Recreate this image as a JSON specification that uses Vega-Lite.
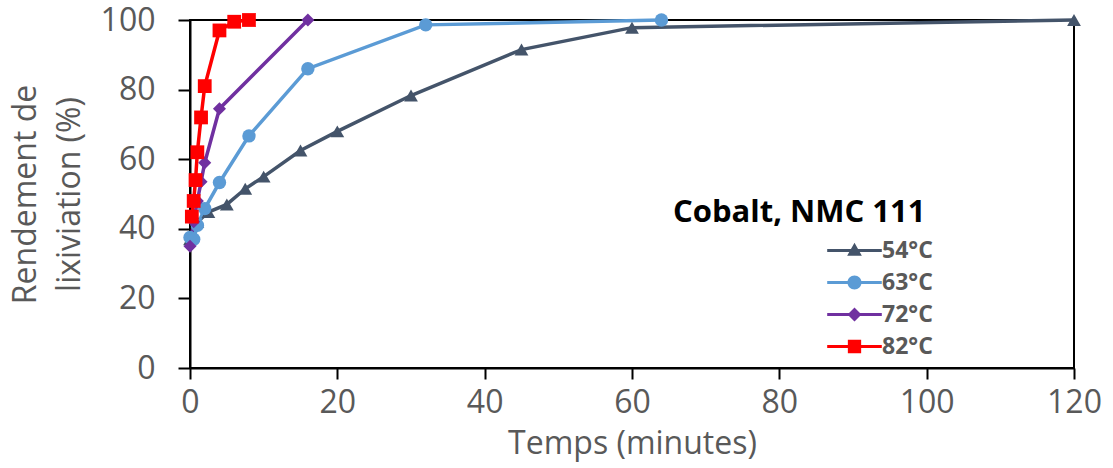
{
  "$schema": "https://vega.github.io/schema/vega-lite/v6.json",
  "width": 884,
  "height": 348,
  "autosize": "none",
  "padding": {"left": 190, "top": 20, "right": 39, "bottom": 100},
  "background": "white",
  "config": {
    "view": {"stroke": "black", "strokeWidth": 2},
    "font": "Open Sans"
  },
  "data": {
    "values": [
      {"serie": "54°C", "t": 0, "v": 37},
      {"serie": "54°C", "t": 1, "v": 42},
      {"serie": "54°C", "t": 2.5, "v": 44.8},
      {"serie": "54°C", "t": 5, "v": 47},
      {"serie": "54°C", "t": 7.5, "v": 51.5},
      {"serie": "54°C", "t": 10, "v": 55},
      {"serie": "54°C", "t": 15, "v": 62.5},
      {"serie": "54°C", "t": 20, "v": 68},
      {"serie": "54°C", "t": 30, "v": 78.3},
      {"serie": "54°C", "t": 45, "v": 91.5},
      {"serie": "54°C", "t": 60, "v": 97.8},
      {"serie": "54°C", "t": 120, "v": 100},
      {"serie": "63°C", "t": 0, "v": 37.5},
      {"serie": "63°C", "t": 0.5, "v": 37},
      {"serie": "63°C", "t": 1, "v": 41},
      {"serie": "63°C", "t": 2, "v": 45.8},
      {"serie": "63°C", "t": 4, "v": 53.3},
      {"serie": "63°C", "t": 8, "v": 66.7},
      {"serie": "63°C", "t": 16, "v": 86},
      {"serie": "63°C", "t": 32, "v": 98.6},
      {"serie": "63°C", "t": 64, "v": 100},
      {"serie": "72°C", "t": 0, "v": 35},
      {"serie": "72°C", "t": 0.5, "v": 42},
      {"serie": "72°C", "t": 1, "v": 48},
      {"serie": "72°C", "t": 1.5, "v": 53.5},
      {"serie": "72°C", "t": 2, "v": 59},
      {"serie": "72°C", "t": 4, "v": 74.5},
      {"serie": "72°C", "t": 16, "v": 100},
      {"serie": "82°C", "t": 0.25, "v": 43.5},
      {"serie": "82°C", "t": 0.5, "v": 48},
      {"serie": "82°C", "t": 0.75, "v": 54},
      {"serie": "82°C", "t": 1, "v": 62},
      {"serie": "82°C", "t": 1.5, "v": 72},
      {"serie": "82°C", "t": 2, "v": 81},
      {"serie": "82°C", "t": 4, "v": 97},
      {"serie": "82°C", "t": 6, "v": 99.5},
      {"serie": "82°C", "t": 8, "v": 100}
    ]
  },
  "encoding": {
    "x": {
      "field": "t", "type": "quantitative",
      "scale": {"domain": [0, 120], "nice": false},
      "axis": {
        "values": [0, 20, 40, 60, 80, 100, 120],
        "title": "Temps (minutes)",
        "grid": false,
        "domainColor": "black", "domainWidth": 2,
        "tickColor": "black", "tickWidth": 2, "tickSize": 11,
        "labelFont": "Open Sans", "labelFontSize": 32, "labelColor": "#595959", "labelPadding": 8,
        "labelFlush": false,
        "titleFont": "Open Sans", "titleFontSize": 32, "titleColor": "#595959", "titleFontWeight": "normal", "titlePadding": 10
      }
    },
    "y": {
      "field": "v", "type": "quantitative",
      "scale": {"domain": [0, 100], "nice": false},
      "axis": {
        "values": [0, 20, 40, 60, 80, 100],
        "title": ["Rendement de", "lixiviation (%)"],
        "grid": false,
        "domainColor": "black", "domainWidth": 2,
        "tickColor": "black", "tickWidth": 2, "tickSize": 12,
        "labelFont": "Open Sans", "labelFontSize": 32, "labelColor": "#595959", "labelPadding": 23,
        "labelFlush": false,
        "titleFont": "Open Sans", "titleFontSize": 32, "titleColor": "#595959", "titleFontWeight": "normal",
        "titleLineHeight": 44, "titlePadding": 14
      }
    },
    "color": {
      "field": "serie", "type": "nominal",
      "scale": {"domain": ["54°C", "63°C", "72°C", "82°C"], "range": ["#44546A", "#5B9BD5", "#7030A0", "#FF0000"]},
      "legend": {
        "title": "Cobalt, NMC 111",
        "orient": "none", "legendX": 483, "legendY": 178,
        "titleFont": "Open Sans", "titleFontSize": 31, "titleFontWeight": "bold", "titleColor": "black",
        "titlePadding": 10, "titleLimit": 500,
        "labelFont": "Open Sans", "labelFontSize": 23, "labelFontWeight": "bold", "labelColor": "#595959",
        "symbolSize": 196, "symbolOffset": 170, "labelOffset": 16, "rowPadding": 8,
        "encode": {
          "symbols": {
            "update": {
              "shape": {"signal": "datum.value === '54°C' ? 'M-3.9,-0.2H3.9V0.2H-3.9Z M0,-1.1L1.05,0.75L-1.05,0.75Z' : datum.value === '63°C' ? 'M-3.9,-0.2H3.9V0.2H-3.9Z M-1,0A1,1 0 1,1 1,0A1,1 0 1,1 -1,0Z' : datum.value === '72°C' ? 'M-3.9,-0.2H3.9V0.2H-3.9Z M0,-1L1,0L0,1L-1,0Z' : 'M-3.9,-0.2H3.9V0.2H-3.9Z M-0.95,-0.95H0.95V0.95H-0.95Z'"},
              "fill": {"scale": "color", "field": "value"},
              "fillOpacity": {"value": 1},
              "strokeWidth": {"value": 0},
              "size": {"value": 196},
              "opacity": {"value": 1}
            }
          }
        }
      }
    }
  },
  "layer": [
    {
      "mark": {"type": "line", "strokeWidth": 3.5},
      "encoding": {"order": {"field": "t", "type": "quantitative"}}
    },
    {
      "transform": [{"filter": "datum.serie === '54°C'"}],
      "mark": {"type": "point", "filled": true, "opacity": 1, "size": 190, "shape": "triangle-up"}
    },
    {
      "transform": [{"filter": "datum.serie === '63°C'"}],
      "mark": {"type": "point", "filled": true, "opacity": 1, "size": 180, "shape": "circle"}
    },
    {
      "transform": [{"filter": "datum.serie === '72°C'"}],
      "mark": {"type": "point", "filled": true, "opacity": 1, "size": 170, "shape": "diamond"}
    },
    {
      "transform": [{"filter": "datum.serie === '82°C'"}],
      "mark": {"type": "point", "filled": true, "opacity": 1, "size": 190, "shape": "square"}
    }
  ]
}
